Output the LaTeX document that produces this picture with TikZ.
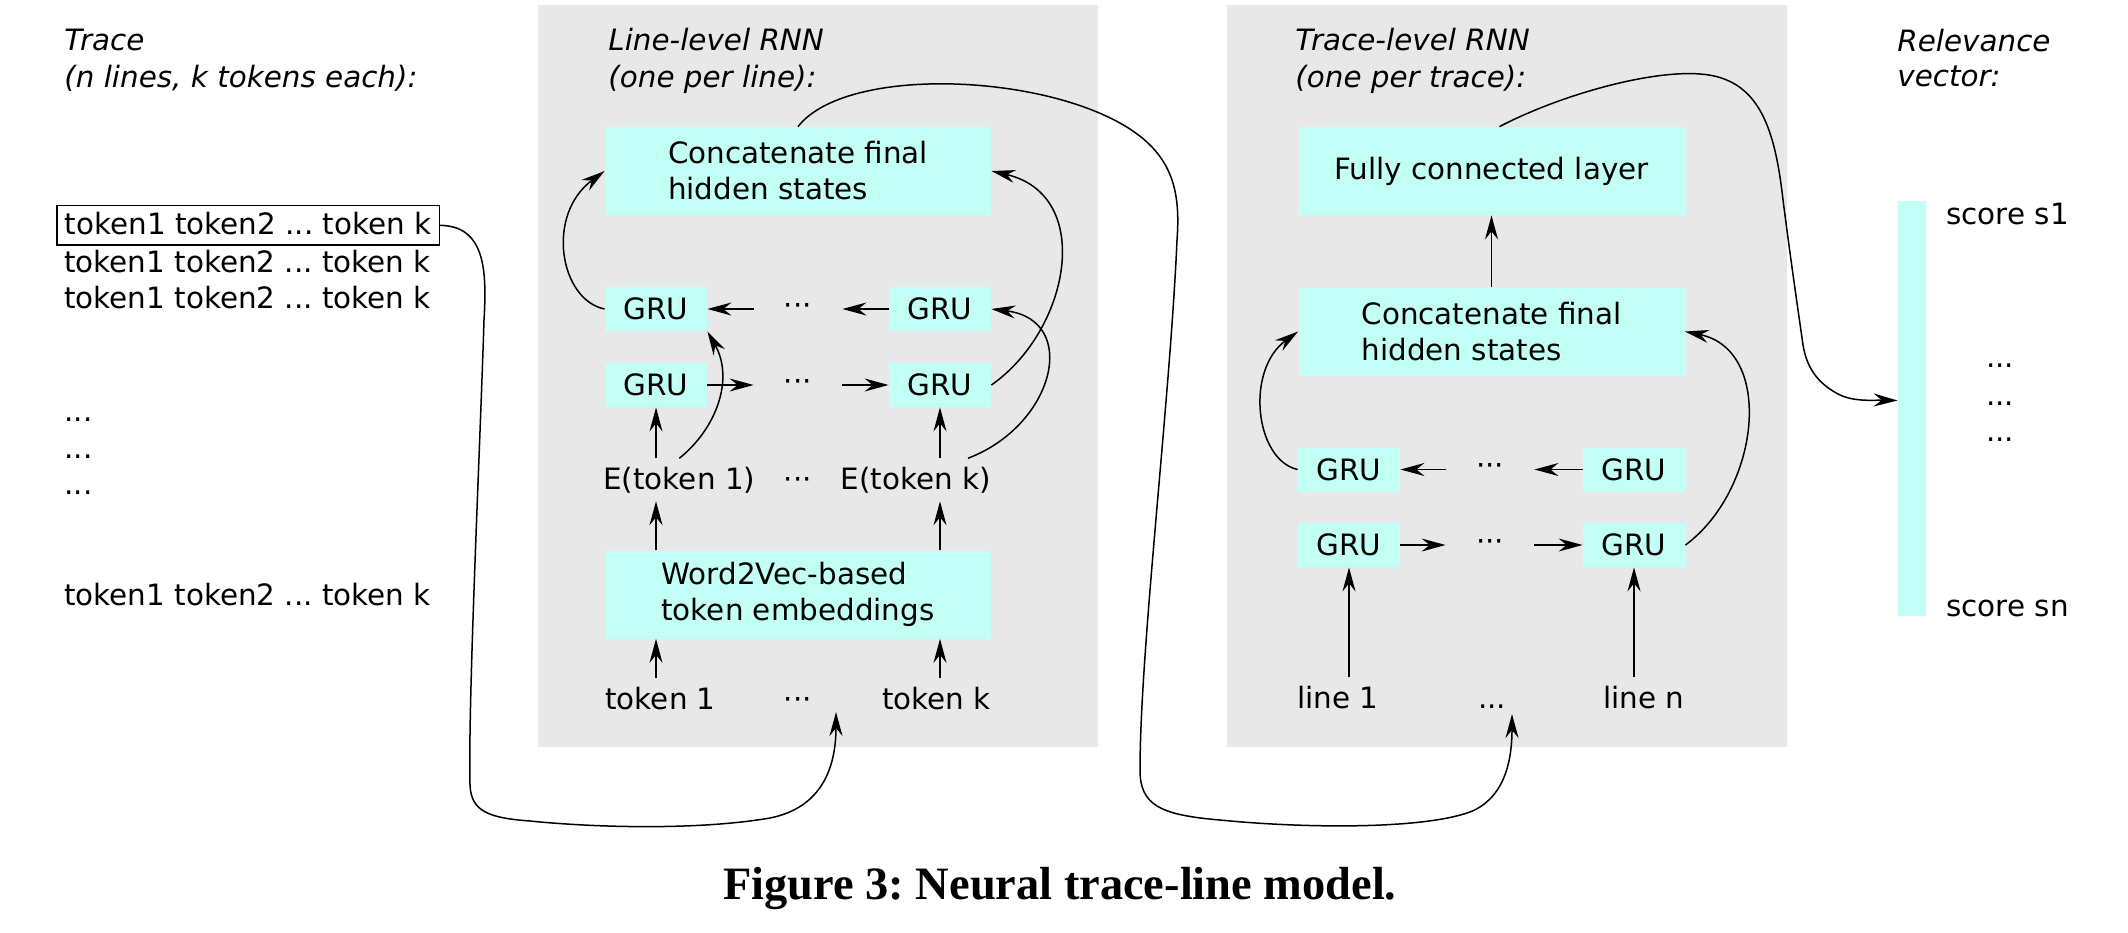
\documentclass[tikz,border=0pt]{standalone}
\usepackage{fontspec}
\setmainfont{DejaVu Sans}
\newfontfamily\captionfont{Liberation Serif}
\usepackage{xcolor}
\usetikzlibrary{arrows.meta,positioning,calc}
\definecolor{boxcyan}{HTML}{C2FFF5}
\definecolor{panelgray}{HTML}{E8E8E8}
\frenchspacing

\begin{document}
\begin{tikzpicture}[x=0.5pt,y=-0.5pt,
  txt/.style={font=\fontsize{14.7}{18}\selectfont, inner sep=3pt},
  lbl/.style={txt, inner xsep=0pt, inner ysep=4pt},
  head/.style={font=\fontsize{14.7}{18}\selectfont\itshape, anchor=base west, inner sep=0pt},
  panel/.style={fill=panelgray, minimum width=280pt, minimum height=371pt, inner sep=0pt},
  cbox/.style={txt, fill=boxcyan, minimum width=193pt, minimum height=44pt, align=left},
  gru/.style={txt, fill=boxcyan, minimum width=51pt, minimum height=22pt},
  gap/.style={txt, minimum width=44pt, inner sep=0pt},
  arr/.style={line width=0.75pt, -{Stealth[length=12pt, width=6.5pt, inset=4pt]}}
]
  \useasboundingbox (0,0) rectangle (2128,932);

  % background panels
  \node[panel] (linepanel) at (818,376) {};
  \node[panel] (tracepanel) at (1507,376) {};

  % trace
  \node[head] (hTrace) at (64,50) {Trace};
  \node[head] (hTraceB) at (64,87) {(n lines, k tokens each):};
  \node[lbl, anchor=base west, draw, line width=0.8pt, inner xsep=4pt, inner ysep=3pt, text depth=2.5pt] (row1) at (56,234) {token1 token2 ... token k};
  \node[lbl, anchor=base west] (row2) at (64,272) {token1 token2 ... token k};
  \node[lbl, anchor=base west] (row3) at (64,308) {token1 token2 ... token k};
  \node[lbl, anchor=base west] (rdots1) at (64,421) {...};
  \node[lbl, anchor=base west] (rdots2) at (64,458) {...};
  \node[lbl, anchor=base west] (rdots3) at (64,494) {...};
  \node[lbl, anchor=base west] (rown) at (64,605) {token1 token2 ... token k};

  % line-level RNN
  \node[head] (hLine) at (608,50) {Line-level RNN};
  \node[head] (hLineB) at (608,87) {(one per line):};
  \node[cbox] (cat1) at (798,171) {Concatenate final\\hidden states};
  \node[gru] (gruTL1) at (656,309) {GRU};
  \node[gru] (gruTR1) at (940,309) {GRU};
  \node[gru] (gruBL1) at (656,385) {GRU};
  \node[gru] (gruBR1) at (940,385) {GRU};
  \node[gap] (dT1) at (798,309) {···};
  \node[gap] (dB1) at (798,385) {···};
  \node[lbl, anchor=base west] (etok1) at (603,489) {E(token 1)};
  \node[lbl, anchor=base east] (etokk) at (991,489) {E(token k)};
  \node[lbl, anchor=base] (edots) at (798,489) {···};
  \node[cbox] (w2v) at (798,594.5) {Word2Vec-based\\token embeddings};
  \node[lbl, anchor=base west] (tok1) at (605,709) {token 1};
  \node[lbl, anchor=base east] (tokk) at (991,709) {token k};
  \node[lbl, anchor=base] (tdots) at (798,709) {···};
  \coordinate (tokin) at (836,712);

  \draw[arr] (gruTR1) -- (dT1);
  \draw[arr] (dT1) -- (gruTL1);
  \draw[arr] (gruBL1) -- (dB1);
  \draw[arr] (dB1) -- (gruBR1);
  \draw[arr] (gruBL1 |- tok1.north) -- (gruBL1 |- w2v.south);
  \draw[arr] (gruBR1 |- tokk.north) -- (gruBR1 |- w2v.south);
  \draw[arr] (gruBL1 |- w2v.north) -- (gruBL1 |- etok1.south);
  \draw[arr] (gruBR1 |- w2v.north) -- (gruBR1 |- etokk.south);
  \draw[arr] (gruBL1 |- etok1.north) -- (gruBL1.south);
  \draw[arr] (gruBR1 |- etokk.north) -- (gruBR1.south);
  \draw[arr] (gruTL1.west) .. controls (560,300) and (545,215) .. (cat1.west);
  \draw[arr] (etok1.north) .. controls (715,430) and (735,380) .. (gruTL1.south east);
  \draw[arr] ([xshift=-11.5pt]etokk.north east) .. controls (1055,425) and (1080,320) .. (gruTR1.east);
  \draw[arr] (gruBR1.east) .. controls (1070,330) and (1095,195) .. (cat1.east);

  % trace-level RNN
  \node[head] (hTr) at (1295,50) {Trace-level RNN};
  \node[head] (hTrB) at (1295,87) {(one per trace):};
  \node[cbox] (fc) at (1491.5,171) {Fully connected layer};
  \node[cbox] (cat2) at (1491.5,331.5) {Concatenate final\\hidden states};
  \node[gru] (gruTL2) at (1349,469.5) {GRU};
  \node[gru] (gruTR2) at (1634,469.5) {GRU};
  \node[gru] (gruBL2) at (1349,545) {GRU};
  \node[gru] (gruBR2) at (1634,545) {GRU};
  \node[gap] (dT2) at (1490,469.5) {···};
  \node[gap] (dB2) at (1490,545) {···};
  \node[lbl, anchor=base west] (line1) at (1297,708) {line 1};
  \node[lbl, anchor=base east] (linen) at (1685,708) {line n};
  \node[lbl, anchor=base] (ldots) at (1492,708) {...};
  \coordinate (linein) at (1512,714);

  \draw[arr] (gruTR2) -- (dT2);
  \draw[arr] (dT2) -- (gruTL2);
  \draw[arr] (gruBL2) -- (dB2);
  \draw[arr] (dB2) -- (gruBR2);
  \draw[arr] (gruBL2 |- line1.north) -- (gruBL2.south);
  \draw[arr] (gruBR2 |- linen.north) -- (gruBR2.south);
  \draw[arr] (cat2) -- (fc);
  \draw[arr] (gruTL2.west) .. controls (1255,460) and (1245,370) .. (cat2.west);
  \draw[arr] (gruBR2.east) .. controls (1760,490) and (1775,350) .. (cat2.east);

  % relevance vector
  \node[head] (hRel) at (1897,51) {Relevance};
  \node[head] (hRelB) at (1897,86) {vector:};
  \node[fill=boxcyan, minimum width=14pt, minimum height=207.5pt, inner sep=0pt] (relbar) at (1912,408.5) {};
  \node[lbl, anchor=base west] (s1) at (1946,224) {score s1};
  \node[lbl, anchor=base west] (sn) at (1946,616) {score sn};
  \node[lbl, anchor=base] (sdots1) at (2000,367) {...};
  \node[lbl, anchor=base] (sdots2) at (2000,405) {...};
  \node[lbl, anchor=base] (sdots3) at (2000,441) {...};

  % long connectors between stages
  \draw[arr] (row1.east) .. controls (485,226) and (487,270) .. (484,320)
    .. controls (480,450) and (468,700) .. (470,785)
    .. controls (471,812) and (490,818) .. (530,821)
    .. controls (600,828) and (700,830) .. (770,818)
    .. controls (820,808) and (836,770) .. (tokin);
  \draw[arr] (cat1.north) .. controls (850,60) and (1080,75) .. (1150,145)
    .. controls (1175,170) and (1180,200) .. (1177,240)
    .. controls (1170,400) and (1140,650) .. (1140,770)
    .. controls (1140,805) and (1160,815) .. (1220,820)
    .. controls (1300,828) and (1420,830) .. (1470,812)
    .. controls (1505,798) and (1512,760) .. (linein);
  \draw[arr] ([xshift=4pt]fc.north) .. controls (1560,95) and (1650,70) .. (1700,74)
    .. controls (1760,78) and (1775,130) .. (1783,200)
    .. controls (1790,255) and (1798,310) .. (1803,345)
    .. controls (1807,370) and (1820,385) .. (1840,395)
    .. controls (1855,402) and (1875,400) .. ([yshift=4pt]relbar.west);

  \node[font=\captionfont\bfseries\fontsize{23.2}{28}\selectfont, anchor=base, inner sep=0pt] (caption) at (1060,899) {Figure 3: Neural trace-line model.};
\end{tikzpicture}
\end{document}
